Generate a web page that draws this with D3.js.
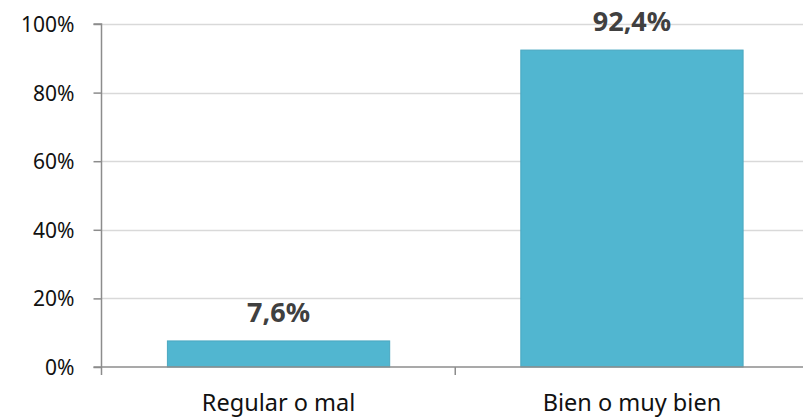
<!DOCTYPE html>
<html>
<head>
<meta charset="utf-8">
<script src="https://d3js.org/d3.v7.min.js"></script>
<style>
  body { margin: 0; background: #fff; }
  text { font-family: "Noto Sans", "Open Sans", sans-serif; }
</style>
</head>
<body>
<svg id="chart"></svg>
<script>
// Chart data
const categories = ["Regular o mal", "Bien o muy bien"];
const values = [7.6, 92.4];
const valueLabels = ["7,6%", "92,4%"];
const yTicks = [0, 20, 40, 60, 80, 100];

// Layout
const width = 803;
const height = 419;
const margin = { top: 24, bottom: 52, left: 101.5, right: -6 };

const svg = d3.select("#chart")
  .attr("width", width)
  .attr("height", height);

const x = d3.scaleBand()
  .domain(categories)
  .range([margin.left, width - margin.right])
  .paddingInner(0.371)
  .paddingOuter(0.1865);

const y = d3.scaleLinear()
  .domain([0, 100])
  .range([height - margin.bottom, margin.top]);

// Gridlines
svg.append("g")
  .selectAll("line")
  .data(yTicks.filter(d => d > 0))
  .enter()
  .append("line")
  .attr("x1", margin.left)
  .attr("x2", width)
  .attr("y1", d => Math.round(y(d)) + 0.5)
  .attr("y2", d => Math.round(y(d)) + 0.5)
  .attr("stroke", "#d9d9d9")
  .attr("stroke-width", 1.5);

// Bars
svg.append("g")
  .selectAll("rect")
  .data(values)
  .enter()
  .append("rect")
  .attr("x", (d, i) => x(categories[i]))
  .attr("y", d => y(d))
  .attr("width", x.bandwidth())
  .attr("height", d => y(0) - y(d))
  .attr("fill", "#51b6d0")
  .attr("stroke", "#4aa8c0")
  .attr("stroke-width", 1);

// Y axis
const yAxis = svg.append("g")
  .attr("transform", "translate(" + margin.left + ",0)")
  .call(d3.axisLeft(y).tickValues(yTicks).tickFormat(d => d + "%").tickSize(8).tickPadding(19));
yAxis.select(".domain").attr("stroke", "#8c8c8c").attr("stroke-width", 1.5)
  .attr("d", "M-8," + y(100) + "H0V" + (y(0) + 8));
yAxis.selectAll(".tick line").attr("stroke", "#8c8c8c").attr("stroke-width", 1.5);
yAxis.selectAll(".tick text")
  .attr("fill", "#111")
  .attr("dy", "0.36em")
  .style("font-size", "21px");

// X axis
const xAxis = svg.append("g")
  .attr("transform", "translate(0," + y(0) + ")");
xAxis.append("line")
  .attr("x1", margin.left - 8)
  .attr("x2", width)
  .attr("stroke", "#8c8c8c")
  .attr("stroke-width", 1.5);
xAxis.selectAll(".sep")
  .data(categories.slice(1))
  .enter()
  .append("line")
  .attr("class", "sep")
  .attr("x1", d => x(d) - x.step() * x.paddingInner() / 2)
  .attr("x2", d => x(d) - x.step() * x.paddingInner() / 2)
  .attr("y1", 0)
  .attr("y2", 8)
  .attr("stroke", "#8c8c8c")
  .attr("stroke-width", 1.5);
xAxis.selectAll(".cat")
  .data(categories)
  .enter()
  .append("text")
  .attr("class", "cat")
  .attr("x", d => x(d) + x.bandwidth() / 2)
  .attr("y", 44)
  .attr("text-anchor", "middle")
  .attr("fill", "#111")
  .style("font-size", "23.5px")
  .text(d => d);

// Value labels
svg.append("g")
  .selectAll("text")
  .data(values)
  .enter()
  .append("text")
  .attr("x", (d, i) => x(categories[i]) + x.bandwidth() / 2)
  .attr("y", d => y(d) - 19)
  .attr("text-anchor", "middle")
  .attr("fill", "#404040")
  .style("font-size", "27px")
  .style("font-weight", "bold")
  .text((d, i) => valueLabels[i]);
</script>
</body>
</html>
